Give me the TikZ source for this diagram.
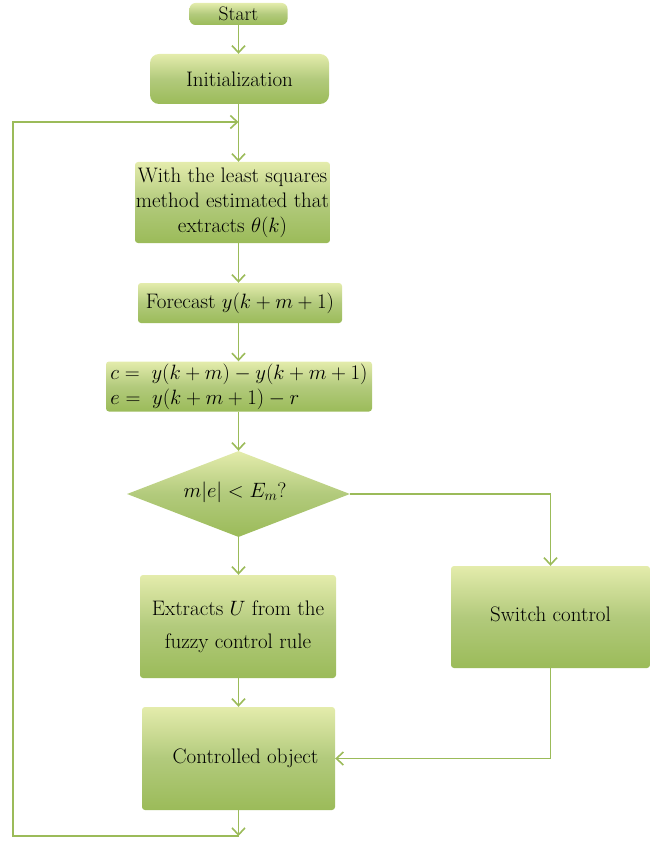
\documentclass[tikz,border=0pt]{standalone}
\usetikzlibrary{arrows.meta,shapes.geometric}
\definecolor{gtop}{RGB}{228,236,172}
\definecolor{gmid}{RGB}{178,202,124}
\definecolor{gbot}{RGB}{155,187,89}
\definecolor{gline}{RGB}{155,187,89}
\begin{document}
\begin{tikzpicture}[x=1pt,y=-1pt,
  box/.style={rectangle,inner sep=0pt,top color=gtop,bottom color=gbot,middle color=gmid,
    font=\fontsize{21}{26}\selectfont,align=center},
  conn/.style={draw=gline,line width=1.9pt},
  arr/.style={conn,-{Straight Barb[length=7pt,width=13pt,line width=1.6pt]}}]
\useasboundingbox (0,0) rectangle (650,842);
\node[box,rounded corners=6pt,minimum width=98pt,minimum height=22pt,font=\fontsize{19.5}{23}\selectfont] (start) at (238.5,14) {Start};
\node[box,rounded corners=9pt,minimum width=179pt,minimum height=50pt] (init) at (239.5,79) {Initialization};
\node[box,rounded corners=3pt,minimum width=195pt,minimum height=81pt] (ls) at (232.5,202.5) {With the least squares\\[-1pt]method estimated that\\[-1pt]extracts $\theta(k)$};
\node[box,rounded corners=3pt,minimum width=204pt,minimum height=40pt] (fc) at (240,303) {Forecast $y(k+m+1)$};
\node[box,rounded corners=3pt,minimum width=266pt,minimum height=50pt,align=left,font=\fontsize{19.5}{24}\selectfont] (eq) at (239,386.5) {$c =\ y(k+m)-y(k+m+1)$\\[1pt]$e =\ y(k+m+1)-r$};
\node[diamond,inner sep=0pt,minimum width=223pt,minimum height=86pt,top color=gtop,bottom color=gbot,middle color=gmid] (dia) at (238.5,494) {};
\node[font=\fontsize{21}{26}\selectfont,inner sep=0pt] (diat) at (235,492) {$m|e| < E_m$?};
\node[box,rounded corners=3pt,minimum width=196pt,minimum height=103pt] (ex) at (238,626.5) {Extracts $U$ from the\\[7pt]fuzzy control rule};
\node[box,rounded corners=3pt,minimum width=193pt,minimum height=103pt] (ctrl) at (238.5,758.5) {\hspace*{14pt}\raisebox{3pt}{Controlled object}};
\node[box,rounded corners=3pt,minimum width=199pt,minimum height=102pt] (sw) at (550.5,617) {\raisebox{5pt}{Switch control}};
\coordinate (bot) at (238.5,836);
\coordinate (botL) at (13,836);
\coordinate (topL) at (13,122);
\coordinate (top) at (238.5,122);
\draw[arr] (start) -- (start.south |- init.north);
\draw[arr] (start.south |- init.south) -- (start.south |- ls.north);
\draw[arr] (start.south |- ls.south) -- (start.south |- fc.north);
\draw[arr] (start.south |- fc.south) -- (start.south |- eq.north);
\draw[arr] (start.south |- eq.south) -- (dia.north);
\draw[arr] (dia.south) -- (dia.south |- ex.north);
\draw[arr] (dia.south |- ex.south) -- (dia.south |- ctrl.north);
\draw[arr] (dia.east) -- (sw.north |- dia.east) -- (sw.north);
\draw[arr] (sw.south) -- (sw.south |- ctrl.east) -- (ctrl.east);
\draw[arr] (ctrl.south) -- (bot);
\draw[arr] (bot) -- (botL) -- (topL) -- (top);
\end{tikzpicture}
\end{document}
